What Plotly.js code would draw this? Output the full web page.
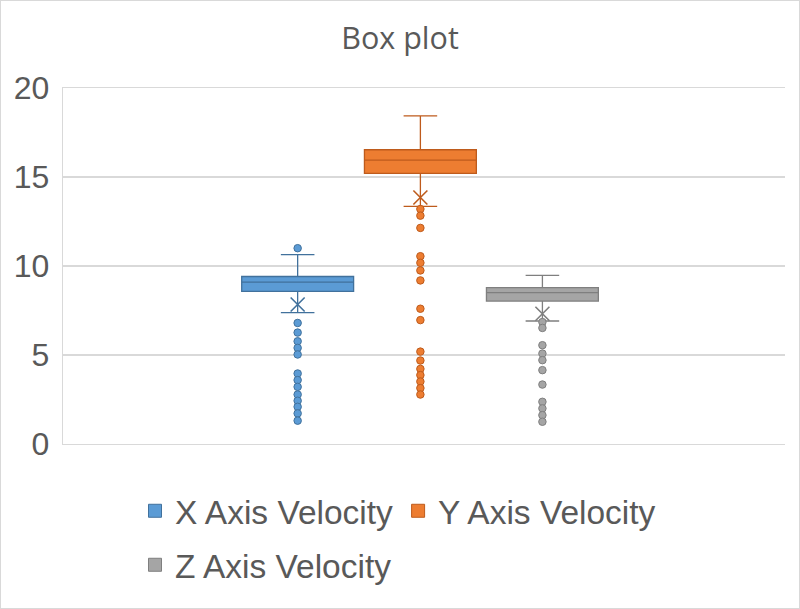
<!DOCTYPE html>
<html>
<head>
<meta charset="utf-8">
<script src="https://cdn.plot.ly/plotly-3.0.1.min.js"></script>
<style>
  html, body { margin: 0; padding: 0; background: #ffffff; }
  #wrap { width: 798px; height: 607px; border: 1px solid #d9d9d9; }
  #chart { width: 798px; height: 607px; }
</style>
</head>
<body>
<div id="wrap"><div id="chart"></div></div>
<script>
// ---- data ----
const seriesNames = ["X Axis Velocity", "Y Axis Velocity", "Z Axis Velocity"];
const q1Values      = [8.57, 15.20, 8.03];
const medianValues  = [9.09, 15.95, 8.50];
const q3Values      = [9.41, 16.53, 8.78];
const lowerWhiskers = [7.38, 13.35, 6.91];
const upperWhiskers = [10.64, 18.43, 9.47];
const meanValues    = [7.84, 13.85, 7.32];
const outliersX = [11.0, 6.80, 6.26, 5.77, 5.40, 5.03, 3.96, 3.59, 3.21, 2.78, 2.43, 2.09, 1.72, 1.31];
const outliersY = [13.20, 12.83, 12.14, 10.55, 10.18, 9.75, 9.19, 7.60, 6.96, 5.19, 4.69, 4.22, 3.87, 3.51, 3.14, 2.78];
const outliersZ = [6.85, 6.52, 5.55, 5.08, 4.71, 4.15, 3.34, 2.37, 2.00, 1.62, 1.25];
const yTickValues = [0, 5, 10, 15, 20];

// ---- styling ----
const fills = ["#5B9BD5", "#ED7D31", "#A5A5A5"];
const lines = ["#41719C", "#BE5B1C", "#7F7F7F"];
const positions = [0.325, 0.495, 0.664];
const boxWidth = 0.155;
const outlierSets = [outliersX, outliersY, outliersZ];
const textColor = "#595959";
const baseFont = "Liberation Sans, Arial, sans-serif";

const traces = [];
for (let i = 0; i < 3; i++) {
  traces.push({
    type: "box",
    name: seriesNames[i],
    x: [positions[i]],
    q1: [q1Values[i]],
    median: [medianValues[i]],
    q3: [q3Values[i]],
    lowerfence: [lowerWhiskers[i]],
    upperfence: [upperWhiskers[i]],
    width: boxWidth,
    whiskerwidth: 0.3,
    boxpoints: false,
    fillcolor: fills[i],
    line: { color: lines[i], width: 1.3 },
    showlegend: false,
    hoverinfo: "skip"
  });
  traces.push({
    type: "scatter",
    mode: "markers",
    x: outlierSets[i].map(() => positions[i]),
    y: outlierSets[i],
    marker: { size: 7.5, color: fills[i], line: { color: lines[i], width: 1 } },
    showlegend: false,
    hoverinfo: "skip"
  });
  traces.push({
    type: "scatter",
    mode: "markers",
    x: [positions[i]],
    y: [meanValues[i]],
    marker: { symbol: "x-thin-open", size: 14, color: lines[i], line: { color: lines[i], width: 1.6 } },
    showlegend: false,
    hoverinfo: "skip"
  });
  // legend entries (square swatches)
  traces.push({
    type: "scatter",
    mode: "markers",
    name: seriesNames[i],
    x: [null],
    y: [null],
    marker: { symbol: "square", size: 13, color: fills[i], line: { color: lines[i], width: 1 } },
    legend: i < 2 ? "legend" : "legend2",
    showlegend: true,
    hoverinfo: "skip"
  });
}

const legendCommon = {
  orientation: "h",
  xref: "container",
  yref: "container",
  xanchor: "left",
  yanchor: "middle",
  font: { family: baseFont, size: 33.5, color: textColor },
  bgcolor: "rgba(0,0,0,0)",
  itemclick: false,
  itemdoubleclick: false
};

const layout = {
  width: 798,
  height: 607,
  paper_bgcolor: "#ffffff",
  plot_bgcolor: "#ffffff",
  margin: { l: 62, r: 14, t: 87, b: 164 },
  title: {
    text: "Box plot",
    font: { family: "Open Sans, sans-serif", size: 30.5, color: textColor },
    x: 0.5, xref: "container", xanchor: "center",
    y: 1 - 37 / 607, yref: "container", yanchor: "middle"
  },
  xaxis: {
    range: [0, 1],
    showgrid: false,
    zeroline: false,
    showticklabels: false,
    showline: true,
    mirror: true,
    linecolor: "#d9d9d9",
    linewidth: 1.3,
    fixedrange: true
  },
  yaxis: {
    range: [0, 20],
    tickvals: yTickValues,
    ticktext: yTickValues.map(String),
    showgrid: true,
    gridcolor: "#d9d9d9",
    gridwidth: 1.3,
    zeroline: false,
    showline: true,
    linecolor: "#d9d9d9",
    linewidth: 1.3,
    ticks: "",
    ticklabelstandoff: 6,
    tickfont: { family: baseFont, size: 32, color: textColor },
    fixedrange: true
  },
  legend: Object.assign({}, legendCommon, { x: 134 / 798, y: 1 - 510 / 607 }),
  legend2: Object.assign({}, legendCommon, { x: 134 / 798, y: 1 - 564 / 607 }),
  showlegend: true
};

Plotly.newPlot("chart", traces, layout, { displayModeBar: false, staticPlot: true });
</script>
</body>
</html>
